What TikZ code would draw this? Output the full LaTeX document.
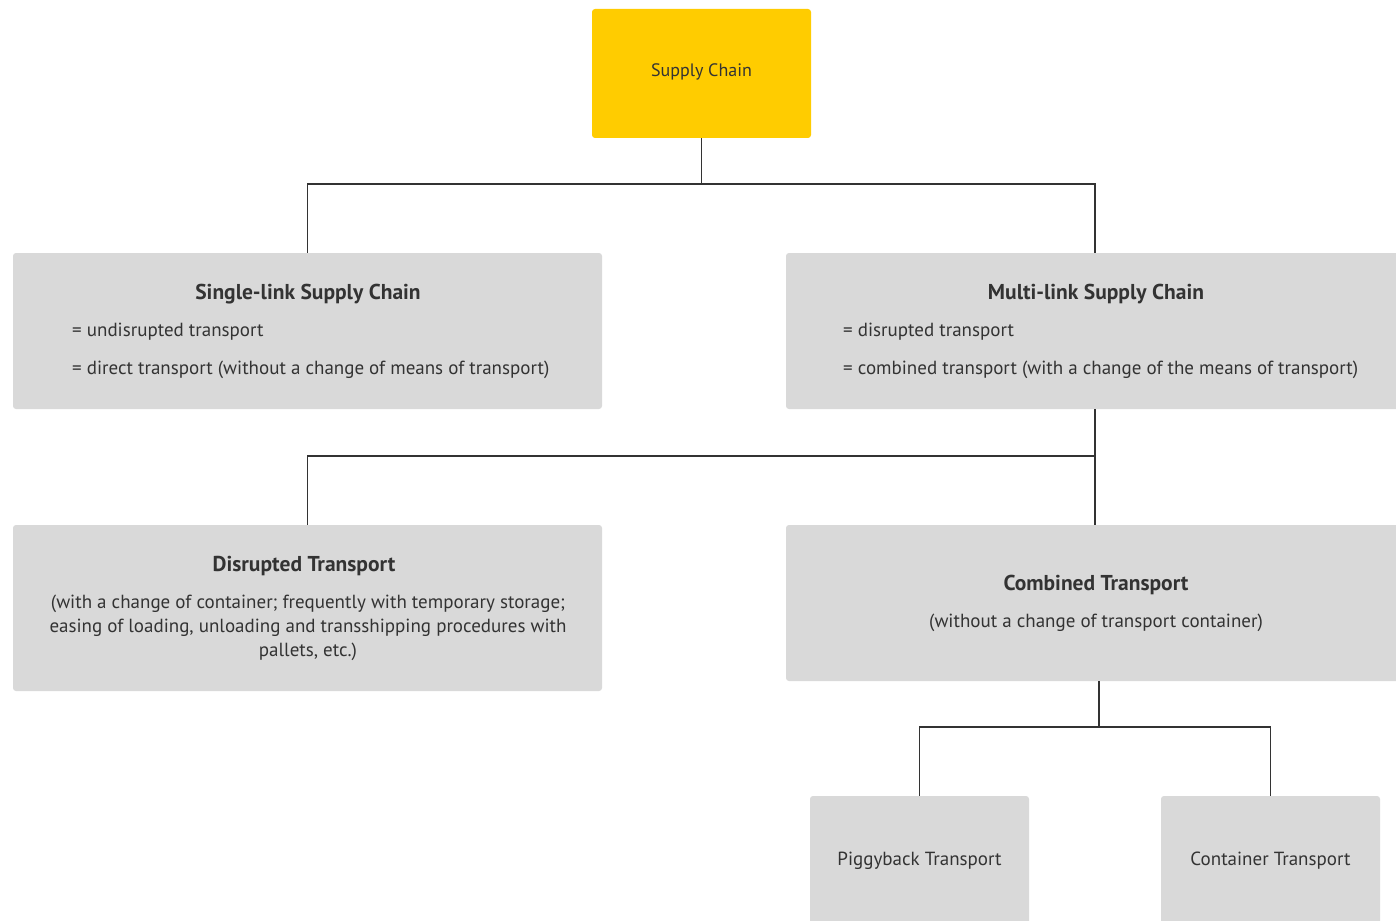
\documentclass[tikz,border=0pt]{standalone}
\usepackage{fontspec}
\setmainfont{PT Sans}
\usetikzlibrary{positioning}
\definecolor{chainyellow}{HTML}{FFCC00}
\definecolor{boxgray}{HTML}{D9D9D9}
\definecolor{inkgray}{HTML}{333333}
\tikzstyle{rootbox}=[rectangle, rounded corners=3pt, fill=chainyellow, minimum width=219pt, minimum height=129pt, inner sep=0pt]
\tikzstyle{graybox}=[rectangle, rounded corners=3pt, fill=boxgray, inner sep=0pt]
\tikzstyle{heading}=[text=inkgray, font=\fontsize{21.5}{26}\selectfont\bfseries, inner sep=0pt]
\tikzstyle{bodytext}=[text=inkgray, font=\fontsize{19}{24}\selectfont, inner sep=0pt]
\tikzstyle{link}=[draw=inkgray, line width=1.8pt]

\begin{document}
\begin{tikzpicture}[x=1pt, y=-1pt]
          \useasboundingbox (0,0) rectangle (1396,920);
          \clip (0,0) rectangle (1396,920);
          \fill[white] (0,0) rectangle (1396,920);

          \node[rootbox] (root) at (701.5,73.5) {};
          \node[bodytext, font=\fontsize{18}{22}\selectfont] (rootT) at (701.5,72) {Supply Chain};

          \node[graybox, minimum width=589pt, minimum height=156pt] (single) at (307.5,331) {};
          \node[graybox, minimum width=618pt, minimum height=156pt] (multi) at (1095,331) {};
          \node[graybox, minimum width=589pt, minimum height=166pt] (disrupted) at (307.5,608) {};
          \node[graybox, minimum width=626pt, minimum height=156pt] (combined) at (1099,603) {};
          \node[graybox, minimum width=219pt, minimum height=130pt] (piggy) at (919.5,861) {};
          \node[graybox, minimum width=219pt, minimum height=130pt] (container) at (1270.5,861) {};

          % texts of the boxes
          \node[heading] (singleT) at (308,294) {Single-link Supply Chain};
          \node[bodytext, anchor=west] (singleA) at (72,332) {= undisrupted transport};
          \node[bodytext, anchor=west] (singleB) at (72,370) {= direct transport (without a change of means of transport)};

          \node[heading] (multiT) at (1096,294) {Multi-link Supply Chain};
          \node[bodytext, anchor=west] (multiA) at (843,332) {= disrupted transport};
          \node[bodytext, anchor=west] (multiB) at (843,370) {= combined transport (with a change of the means of transport)};

          \node[heading] (disruptedT) at (304,566) {Disrupted Transport};
          \node[bodytext, align=center] (disruptedB) at (308,628) {(with a change of container; frequently with temporary storage;\\easing of loading, unloading and transshipping procedures with\\pallets, etc.)};

          \node[heading] (combinedT) at (1096,585) {Combined Transport};
          \node[bodytext] (combinedB) at (1096,623) {(without a change of transport container)};

          \node[bodytext] (piggyT) at (919.5,861) {Piggyback Transport};
          \node[bodytext] (containerT) at (1270.5,861) {Container Transport};

          % connectors
          \coordinate (j1) at (701.5,184);
          \coordinate (j2) at (1095,456);
          \coordinate (j3) at (1099,727);
          \draw[link] (root.south) -- (j1);
          \draw[link] (single.north) |- (j1) -| (multi.north);
          \draw[link] (multi.south) -- (j2);
          \draw[link] (disrupted.north) |- (j2) -- (combined.north -| j2);
          \draw[link] (combined.south) -- (j3);
          \draw[link] (piggy.north) |- (j3) -| (container.north);
        \end{tikzpicture}
\end{document}
